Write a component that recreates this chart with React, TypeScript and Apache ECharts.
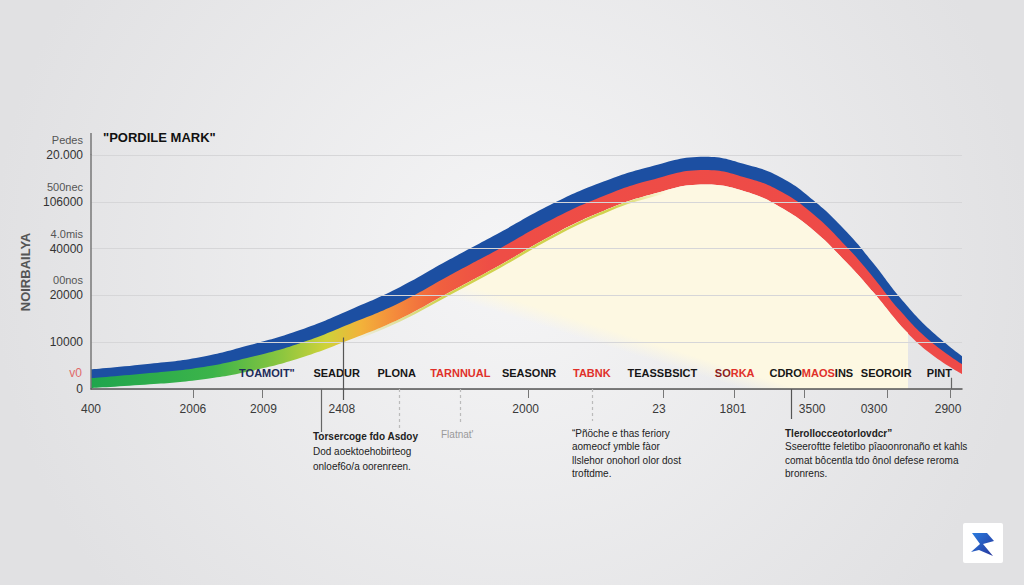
import React, { useEffect, useRef } from "react";
import * as echarts from "echarts";

// ---- data ----
const yTickLabels = ["0", "10000", "20000", "40000", "106000", "20.000"];
const ySubLabels = ["", "", "00nos", "4.0mis", "500nec", "Pedes"];
const yAxisName = "NOIRBAILYA";
const chartTitle = "\"PORDILE MARK\"";

const xTickLabelValues = [0, 11.7, 19.8, 28.8, 49.9, 65.2, 73.7, 82.8, 89.9, 98.4];
const xTickLabels = ["400", "2006", "2009", "2408", "2000", "23", "1801", "3500", "0300", "2900"];
const xTickMarkValues = [11.7, 19.7, 50.2, 65.7, 73.8, 81.9, 91.4, 98.7];

const categoryValues = [20.2, 28.2, 35.1, 42.4, 50.3, 57.5, 65.6, 73.9, 82.7, 91.3, 97.4];
const categoryLabels = [
  "{n|TOAMOIT\"}", "{d|SEADUR}", "{d|PLONA}", "{r|TARNNUAL}", "{d|SEASONR}", "{r|TABNK}",
  "{d|TEASSBSICT}", "{k|SO}{r|RKA}", "{d|CDRO}{r|MAOS}{d|INS}", "{d|SEOROIR}", "{d|PINT}",
];

// band: bottom edge of the lower (green→red) band, then the thickness of each layer
const curveX = [0, 6.77, 12.51, 18.25, 24.0, 29.7, 35.5, 41.2, 47.0, 52.7, 58.4, 64.2, 70.5, 75.3, 79.1, 82.9, 86.8, 89.8, 92.9, 96.3, 100];
const bandBottom = [0.02, 0.1, 0.2, 0.38, 0.66, 1.05, 1.5, 2.07, 2.65, 3.26, 3.77, 4.15, 4.37, 4.21, 3.89, 3.4, 2.69, 2.07, 1.37, 0.77, 0.32];
const lowerBand = [0.21, 0.24, 0.26, 0.3, 0.32, 0.34, 0.35, 0.36, 0.36, 0.34, 0.32, 0.31, 0.31, 0.3, 0.34, 0.34, 0.34, 0.32, 0.3, 0.26, 0.21];
const upperBand = [0.19, 0.2, 0.22, 0.26, 0.28, 0.3, 0.33, 0.34, 0.34, 0.33, 0.31, 0.29, 0.28, 0.28, 0.3, 0.3, 0.32, 0.3, 0.28, 0.24, 0.17];
const creamX = [0, 6.77, 12.51, 18.25, 24.0, 29.7, 35.5, 41.2, 47.0, 52.7, 58.4, 64.2, 70.5, 75.3, 79.1, 82.9, 86.8, 89.8, 92.9, 93.8];
const creamTop = [0.02, 0.1, 0.2, 0.38, 0.66, 1.05, 1.5, 2.07, 2.65, 3.26, 3.77, 4.15, 4.37, 4.21, 3.89, 3.4, 2.69, 2.07, 1.37, 1.2];

const redMarkValue = 0.35;
const redMarkLabel = "v0";

const leaders = [
  { v: 26.4, from: 0, to: -43, dash: false, color: "#666" },
  { v: 28.9, from: 1.1, to: -11, dash: false, color: "#555" },
  { v: 35.4, from: 0, to: -39, dash: true, color: "#bbb" },
  { v: 42.4, from: 0, to: -36, dash: true, color: "#bbb" },
  { v: 57.5, from: 0, to: -32, dash: true, color: "#bbb" },
  { v: 80.4, from: 0, to: -30, dash: false, color: "#555" },
  { v: 98.7, from: 0.24, to: 0, dash: false, color: "#666" },
];

const notes = [
  { x: 313, y: 436, gap: 15, color: "#222", lines: ["Torsercoge fdo Asdoy", "Dod aoektoehobirteog", "onloef6o/a oorenreen."], bold: true },
  { x: 441, y: 434, gap: 14, color: "#9a9a9a", lines: ["Flatnat'"], bold: false },
  { x: 572, y: 433, gap: 13.5, color: "#222", lines: ["\u201cPñöche e thas feriory", "aomeocf ymble fàor", "llslehor onohorl olor dost", "troftdme."], bold: false },
  { x: 785, y: 433, gap: 13.5, color: "#222", lines: ["Tlerollocceotorlovdcr\u201d", "Sseeroftte feletibo pîaoonronaño et kahls", "comat bôcentla tdo ônol defese reroma", "bronrens."], bold: true },
];

const FONT = "'Liberation Sans', Arial, sans-serif";
const NARROW = "'Liberation Sans Narrow', 'Liberation Sans', Arial, sans-serif";

const zip = (xs: number[], ys: number[]) => xs.map((x, i) => [x, ys[i]]);
const SMOOTH = 0.45;
const BG = () => ({
  type: "radial", global: true, x: 512, y: 263, r: 520,
  colorStops: [{ offset: 0, color: "#f5f5f6" }, { offset: 1, color: "#e1e1e3" }],
});

export default function App() {
  const ref = useRef<HTMLDivElement>(null);
  useEffect(() => {
    if (!ref.current) return;
    const chart = echarts.init(ref.current, null, { renderer: "svg" });
    const lowerTop = bandBottom.map((b, i) => b + lowerBand[i]);
    const blueTop = lowerTop.map((b, i) => b + upperBand[i]);
    const fringeLine = bandBottom.map((b) => b - 0.03);
    const area = (xs: number[], ys: number[], color: any, z: number) => ({
      type: "line", data: zip(xs, ys), smooth: SMOOTH, symbol: "none", z, silent: true,
      lineStyle: { width: 0 }, areaStyle: { color, opacity: 1 },
    });
    const option: any = {
      animation: false,
      backgroundColor: BG(),
      title: {
        text: chartTitle, left: 103, top: 131, padding: 0,
        textStyle: { fontFamily: FONT, fontSize: 13, fontWeight: "bold", color: "#111" },
      },
      grid: { left: 91, right: 62, top: 155, bottom: 196, containLabel: false },
      xAxis: [
        {
          type: "value", min: 0, max: 100, z: 12,
          axisLine: { show: true, lineStyle: { color: "#555", width: 1.5 } },
          axisTick: { show: true, customValues: xTickMarkValues, length: 9, lineStyle: { color: "#777" } },
          splitLine: { show: false },
          axisLabel: {
            customValues: xTickLabelValues, margin: 14,
            formatter: (v: number) => xTickLabels[xTickLabelValues.findIndex((t) => Math.abs(t - v) < 1e-6)] ?? "",
            color: "#3a3a3a", fontSize: 12, fontFamily: FONT,
          },
        },
        {
          type: "value", min: 0, max: 100, position: "bottom", offset: -22, z: 12,
          axisLine: { show: false }, axisTick: { show: false }, splitLine: { show: false },
          axisLabel: {
            customValues: categoryValues, margin: 0,
            formatter: (v: number) => categoryLabels[categoryValues.findIndex((t) => Math.abs(t - v) < 1e-6)] ?? "",
            fontFamily: NARROW, fontSize: 11, fontWeight: "bold",
            rich: {
              d: { color: "#161616", fontWeight: "bold", fontSize: 11, fontFamily: NARROW },
              k: { color: "#8a1d1d", fontWeight: "bold", fontSize: 11, fontFamily: NARROW },
              r: { color: "#e0302a", fontWeight: "bold", fontSize: 11, fontFamily: NARROW },
              n: { color: "#1c2a5a", fontWeight: "bold", fontSize: 11, fontFamily: NARROW },
            },
          },
        },
      ],
      yAxis: {
        type: "value", min: 0, max: 5, interval: 1, z: 12,
        name: yAxisName, nameLocation: "middle", nameGap: 46, nameRotate: 90,
        nameTextStyle: { color: "#555", fontSize: 13, fontWeight: "bold", fontFamily: NARROW },
        axisLine: { show: true, lineStyle: { color: "#777", width: 1.5 } },
        axisTick: { show: false },
        splitLine: { show: true, lineStyle: { color: "#d6d6d8", width: 1 } },
        axisLabel: {
          margin: 8,
          formatter: (v: number) => {
            const i = Math.round(v);
            const main = yTickLabels[i] ?? "";
            const sub = ySubLabels[i] ?? "";
            return sub ? `{s|${sub}}\n{b|${main}}\n{e| }` : `{b|${main}}`;
          },
          rich: {
            s: { color: "#555", fontSize: 11, lineHeight: 15, fontFamily: FONT, align: "right" },
            b: { color: "#333", fontSize: 12, lineHeight: 15, fontFamily: FONT, align: "right" },
            e: { fontSize: 12, lineHeight: 15 },
          },
        },
      },
      series: [
        area(curveX, blueTop, "#1c4fa2", 1),
        area(curveX, lowerTop, {
          type: "linear", x: 0, y: 0, x2: 1, y2: 0,
          colorStops: [
            { offset: 0, color: "#1fa54d" },
            { offset: 0.14, color: "#3cb44a" },
            { offset: 0.22, color: "#8dc63f" },
            { offset: 0.27, color: "#cfd23a" },
            { offset: 0.31, color: "#f2b23a" },
            { offset: 0.35, color: "#f48a3c" },
            { offset: 0.4, color: "#f0603f" },
            { offset: 0.46, color: "#ee4d46" },
            { offset: 1, color: "#ee4a48" },
          ],
        }, 2),
        area(curveX, bandBottom, BG(), 3),
        {
          type: "line", data: zip(creamX, creamTop), smooth: SMOOTH, symbol: "none", z: 4,
          lineStyle: { width: 0 }, silent: true,
          areaStyle: {
            color: {
              type: "linear", global: true, x: 580, y: 338, x2: 585, y2: 322,
              colorStops: [{ offset: 0, color: "rgba(253,248,226,0)" }, { offset: 1, color: "rgba(253,248,226,1)" }],
            },
            opacity: 1,
          },
        },
        {
          type: "line", data: zip(curveX, fringeLine), smooth: SMOOTH, symbol: "none", z: 5, silent: true,
          lineStyle: {
            width: 2.5,
            color: {
              type: "linear", x: 0, y: 0, x2: 1, y2: 0,
              colorStops: [
                { offset: 0, color: "rgba(210,212,74,0)" },
                { offset: 0.3, color: "rgba(210,212,74,0)" },
                { offset: 0.4, color: "rgba(206,208,70,0.95)" },
                { offset: 0.6, color: "rgba(206,208,70,0.95)" },
                { offset: 0.66, color: "rgba(210,212,74,0)" },
                { offset: 1, color: "rgba(210,212,74,0)" },
              ],
            },
          },
        },
      ],
    };
    chart.setOption(option);

    const px = (v: number) => chart.convertToPixel({ xAxisIndex: 0 }, v) as number;
    const py = (v: number) => chart.convertToPixel({ yAxisIndex: 0 }, v) as number;
    const y0 = py(0);
    const graphics: any[] = [];
    graphics.push({ type: "line", shape: { x1: px(0), y1: py(5) - 22, x2: px(0), y2: py(5) }, style: { stroke: "#777", lineWidth: 1.5 } });
    graphics.push({
      type: "text", x: px(0) - 9, y: py(redMarkValue),
      style: { text: redMarkLabel, fill: "#e06a6a", font: `12px ${FONT}`, align: "right", verticalAlign: "middle" },
    });
    leaders.forEach((l) => {
      const x = Math.round(px(l.v)) + 0.5;
      const yTop = l.from > 0 ? py(l.from) : y0;
      graphics.push({
        type: "line", z: 20, shape: { x1: x, y1: yTop, x2: x, y2: y0 - l.to },
        style: { stroke: l.color, lineWidth: 1.2, lineDash: l.dash ? [3, 3] : null },
      });
    });
    notes.forEach((n) => {
      n.lines.forEach((t, i) => {
        graphics.push({
          type: "text", x: n.x, y: n.y + i * n.gap,
          style: {
            text: t, fill: n.color,
            font: `${n.bold && i === 0 ? "bold " : ""}10px ${FONT}`,
            align: "left", verticalAlign: "middle",
          },
        });
      });
    });
    // logo
    graphics.push({ type: "rect", shape: { x: 963, y: 523, width: 40, height: 40, r: 2 }, style: { fill: "#ffffff" } });
    graphics.push({
      type: "polygon",
      shape: { points: [[972, 533], [987, 533], [994, 541], [983, 544], [993, 556], [979, 550], [971, 552], [980, 544]] },
      style: {
        fill: new echarts.graphic.LinearGradient(0, 0, 1, 1, [
          { offset: 0, color: "#2a7de0" },
          { offset: 1, color: "#27349a" },
        ]),
      },
    });
    chart.setOption({ graphic: graphics });

    return () => chart.dispose();
  }, []);
  return <div ref={ref} style={{ position: "absolute", left: 0, top: 0, width: 1024, height: 585 }} />;
}
